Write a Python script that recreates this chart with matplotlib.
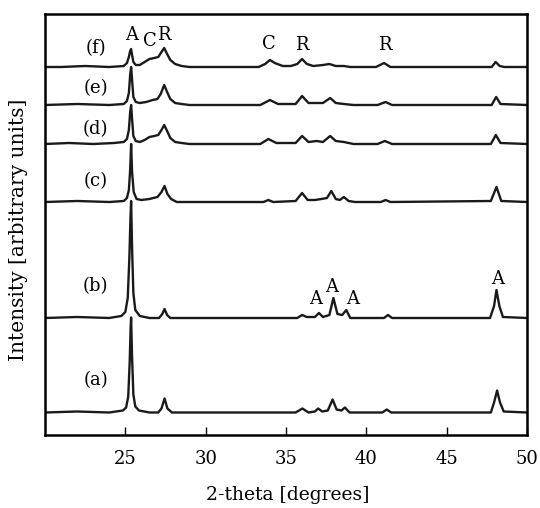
import matplotlib
matplotlib.use('Agg')
import matplotlib.pyplot as plt

# XRD traces: x in 2-theta degrees, h = height above each trace's baseline
a_x = [20.0, 22.0, 24.0, 24.85, 25.05, 25.18, 25.27, 25.33, 25.36, 25.42, 25.5, 25.62, 25.85, 26.5,
       27.05, 27.25, 27.44, 27.62, 27.9, 35.6, 36.02, 36.4, 36.8, 37.0, 37.25, 37.6, 37.9, 38.15,
       38.45, 38.67, 38.95, 41.0, 41.27, 41.55, 47.75, 47.95, 48.14, 48.32, 48.55, 50.0]
a_h = [0, 1, 0, 2, 5, 16, 50, 85, 95, 55, 18, 6, 2, 0,
       0, 4, 14, 4, 0, 0, 4, 0, 1, 4, 1, 2, 13, 3,
       2, 5, 0, 0, 3, 0, 0, 10, 22, 10, 1, 0]

b_x = [20.0, 22.0, 24.0, 24.75, 25.0, 25.15, 25.25, 25.32, 25.36, 25.42, 25.5, 25.62, 25.9, 26.5,
       27.1, 27.3, 27.44, 27.6, 27.8, 35.7, 36.0, 36.3, 36.8, 37.05, 37.3, 37.7, 37.95, 38.2,
       38.5, 38.75, 39.0, 41.1, 41.35, 41.6, 47.7, 47.95, 48.1, 48.28, 48.5, 50.0]
b_h = [0, 1, 0, 2, 6, 20, 60, 100, 117, 70, 25, 8, 2, 0,
       0, 4, 9, 3, 0, 0, 3, 1, 1, 5, 1, 3, 20, 4,
       3, 8, 0, 0, 3, 0, 0, 12, 28, 12, 1, 0]

c_x = [20.0, 22.0, 24.0, 24.9, 25.1, 25.22, 25.3, 25.36, 25.42, 25.52, 25.7, 26.0, 26.5, 27.0,
       27.25, 27.44, 27.62, 27.85, 28.2, 33.6, 33.9, 34.2, 35.6, 36.0, 36.35, 36.8, 37.2, 37.55,
       37.82, 38.1, 38.35, 38.6, 38.9, 39.3, 40.9, 41.2, 41.5, 47.75, 48.1, 48.4, 50.0]
c_h = [0, 1, 0, 1, 4, 12, 32, 58, 30, 10, 3, 2, 3, 5,
       10, 16, 8, 3, 0, 0, 2, 0, 1, 9, 2, 2, 3, 4,
       11, 3, 2, 5, 1, 0, 0, 2, 0, 1, 15, 1, 0]

d_x = [20.0, 21.5, 23.0, 24.3, 24.9, 25.1, 25.22, 25.3, 25.36, 25.42, 25.5, 25.65, 25.9, 26.2,
       26.5, 26.8, 27.05, 27.25, 27.42, 27.6, 27.8, 28.1, 28.5, 29.0, 33.4, 33.9, 34.4, 35.6,
       36.0, 36.4, 36.9, 37.3, 37.75, 38.1, 38.6, 39.2, 40.7, 41.15, 41.6, 47.75, 48.06, 48.35, 50.0]
d_h = [0, 1, 0, 1, 2, 5, 14, 32, 39, 25, 8, 3, 2, 4,
       7, 8, 9, 14, 19, 13, 6, 2, 1, 0, 0, 5, 1, 1,
       8, 2, 3, 2, 8, 3, 2, 0, 0, 3, 0, 0, 9, 1, 0]

e_x = [20.0, 22.0, 24.0, 24.9, 25.1, 25.22, 25.3, 25.36, 25.42, 25.5, 25.65, 25.9, 26.3, 26.7,
       27.0, 27.2, 27.42, 27.6, 27.8, 28.1, 28.5, 29.0, 33.4, 34.0, 34.5, 35.6, 36.0, 36.4,
       36.9, 37.3, 37.75, 38.1, 38.6, 39.2, 40.7, 41.2, 41.6, 47.8, 48.08, 48.35, 50.0]
e_h = [0, 1, 0, 1, 4, 12, 30, 38, 25, 8, 3, 2, 3, 5,
       6, 11, 20, 13, 6, 2, 1, 0, 0, 5, 1, 1, 9, 2,
       2, 2, 7, 2, 1, 0, 0, 3, 0, 0, 8, 1, 0]

f_x = [20.0, 21.0, 22.5, 24.0, 24.9, 25.1, 25.22, 25.3, 25.36, 25.42, 25.5, 25.65, 25.9, 26.2,
       26.5, 26.8, 27.05, 27.25, 27.42, 27.6, 27.8, 28.1, 28.5, 29.0, 33.3, 33.7, 34.0, 34.3,
       34.8, 35.3, 35.7, 36.0, 36.3, 36.7, 37.3, 37.7, 38.1, 38.6, 39.0, 40.6, 41.1, 41.5,
       47.8, 48.05, 48.3, 48.6, 50.0]
f_h = [0, 0, 1, 0, 1, 4, 10, 16, 18, 12, 5, 2, 2, 5,
       8, 9, 10, 15, 19, 13, 7, 3, 1, 0, 0, 3, 7, 4,
       1, 1, 3, 8, 3, 1, 2, 3, 1, 1, 0, 0, 4, 0,
       0, 5, 1, 0, 0]

sample_names = ['(a)', '(b)', '(c)', '(d)', '(e)', '(f)']
phase_top = ['A', 'C', 'R', 'C', 'R', 'R']
phase_top_x = [25.38, 26.55, 27.42, 33.94, 36.0, 41.16]
phase_b = ['A', 'A', 'A', 'A']
phase_b_x = [36.84, 37.86, 39.17, 48.16]

traces = [(a_x, a_h), (b_x, b_h), (c_x, c_h), (d_x, d_h), (e_x, e_h), (f_x, f_h)]
offsets = [22.5, 117, 233, 291, 330, 368]
name_y = [55, 148.5, 253.5, 305.5, 346.5, 387]
top_y = [400, 394.5, 400, 391, 390.5, 390.5]
b_y = [136, 148.5, 136, 156.5]

plt.rcParams['font.family'] = ['DejaVu Serif']
fig = plt.figure(figsize=(5.4, 5.08), dpi=100)
ax = fig.add_axes([45 / 540, 1 - 435 / 508, 482 / 540, 421.5 / 508])

for (x, h), off in zip(traces, offsets):
    ax.plot(x, [off + v for v in h], color='#1a1a1a', lw=1.7, solid_joinstyle='round')

for name, y in zip(sample_names, name_y):
    ax.text(23.15, y, name, ha='center', va='center', fontsize=13)
for lab, x, y in zip(phase_top, phase_top_x, top_y):
    ax.text(x, y, lab, ha='center', va='center', fontsize=13)
for lab, x, y in zip(phase_b, phase_b_x, b_y):
    ax.text(x, y, lab, ha='center', va='center', fontsize=13)

ax.set_xlim(20, 50)
ax.set_ylim(0, 421.5)
ax.set_xticks([25, 30, 35, 40, 45, 50])
ax.set_yticks([])
ax.tick_params(axis='x', direction='in', length=6, width=1, labelsize=13, pad=11)
for s in ax.spines.values():
    s.set_linewidth(1.8)

fig.text(288 / 540, 1 - 495 / 508, '2-theta [degrees]', ha='center', va='center', fontsize=13.5)
fig.text(19 / 540, 1 - 230 / 508, 'Intensity [arbitrary units]', ha='center', va='center',
         rotation=90, fontsize=14.5)

fig.savefig('out.png', dpi=100)
